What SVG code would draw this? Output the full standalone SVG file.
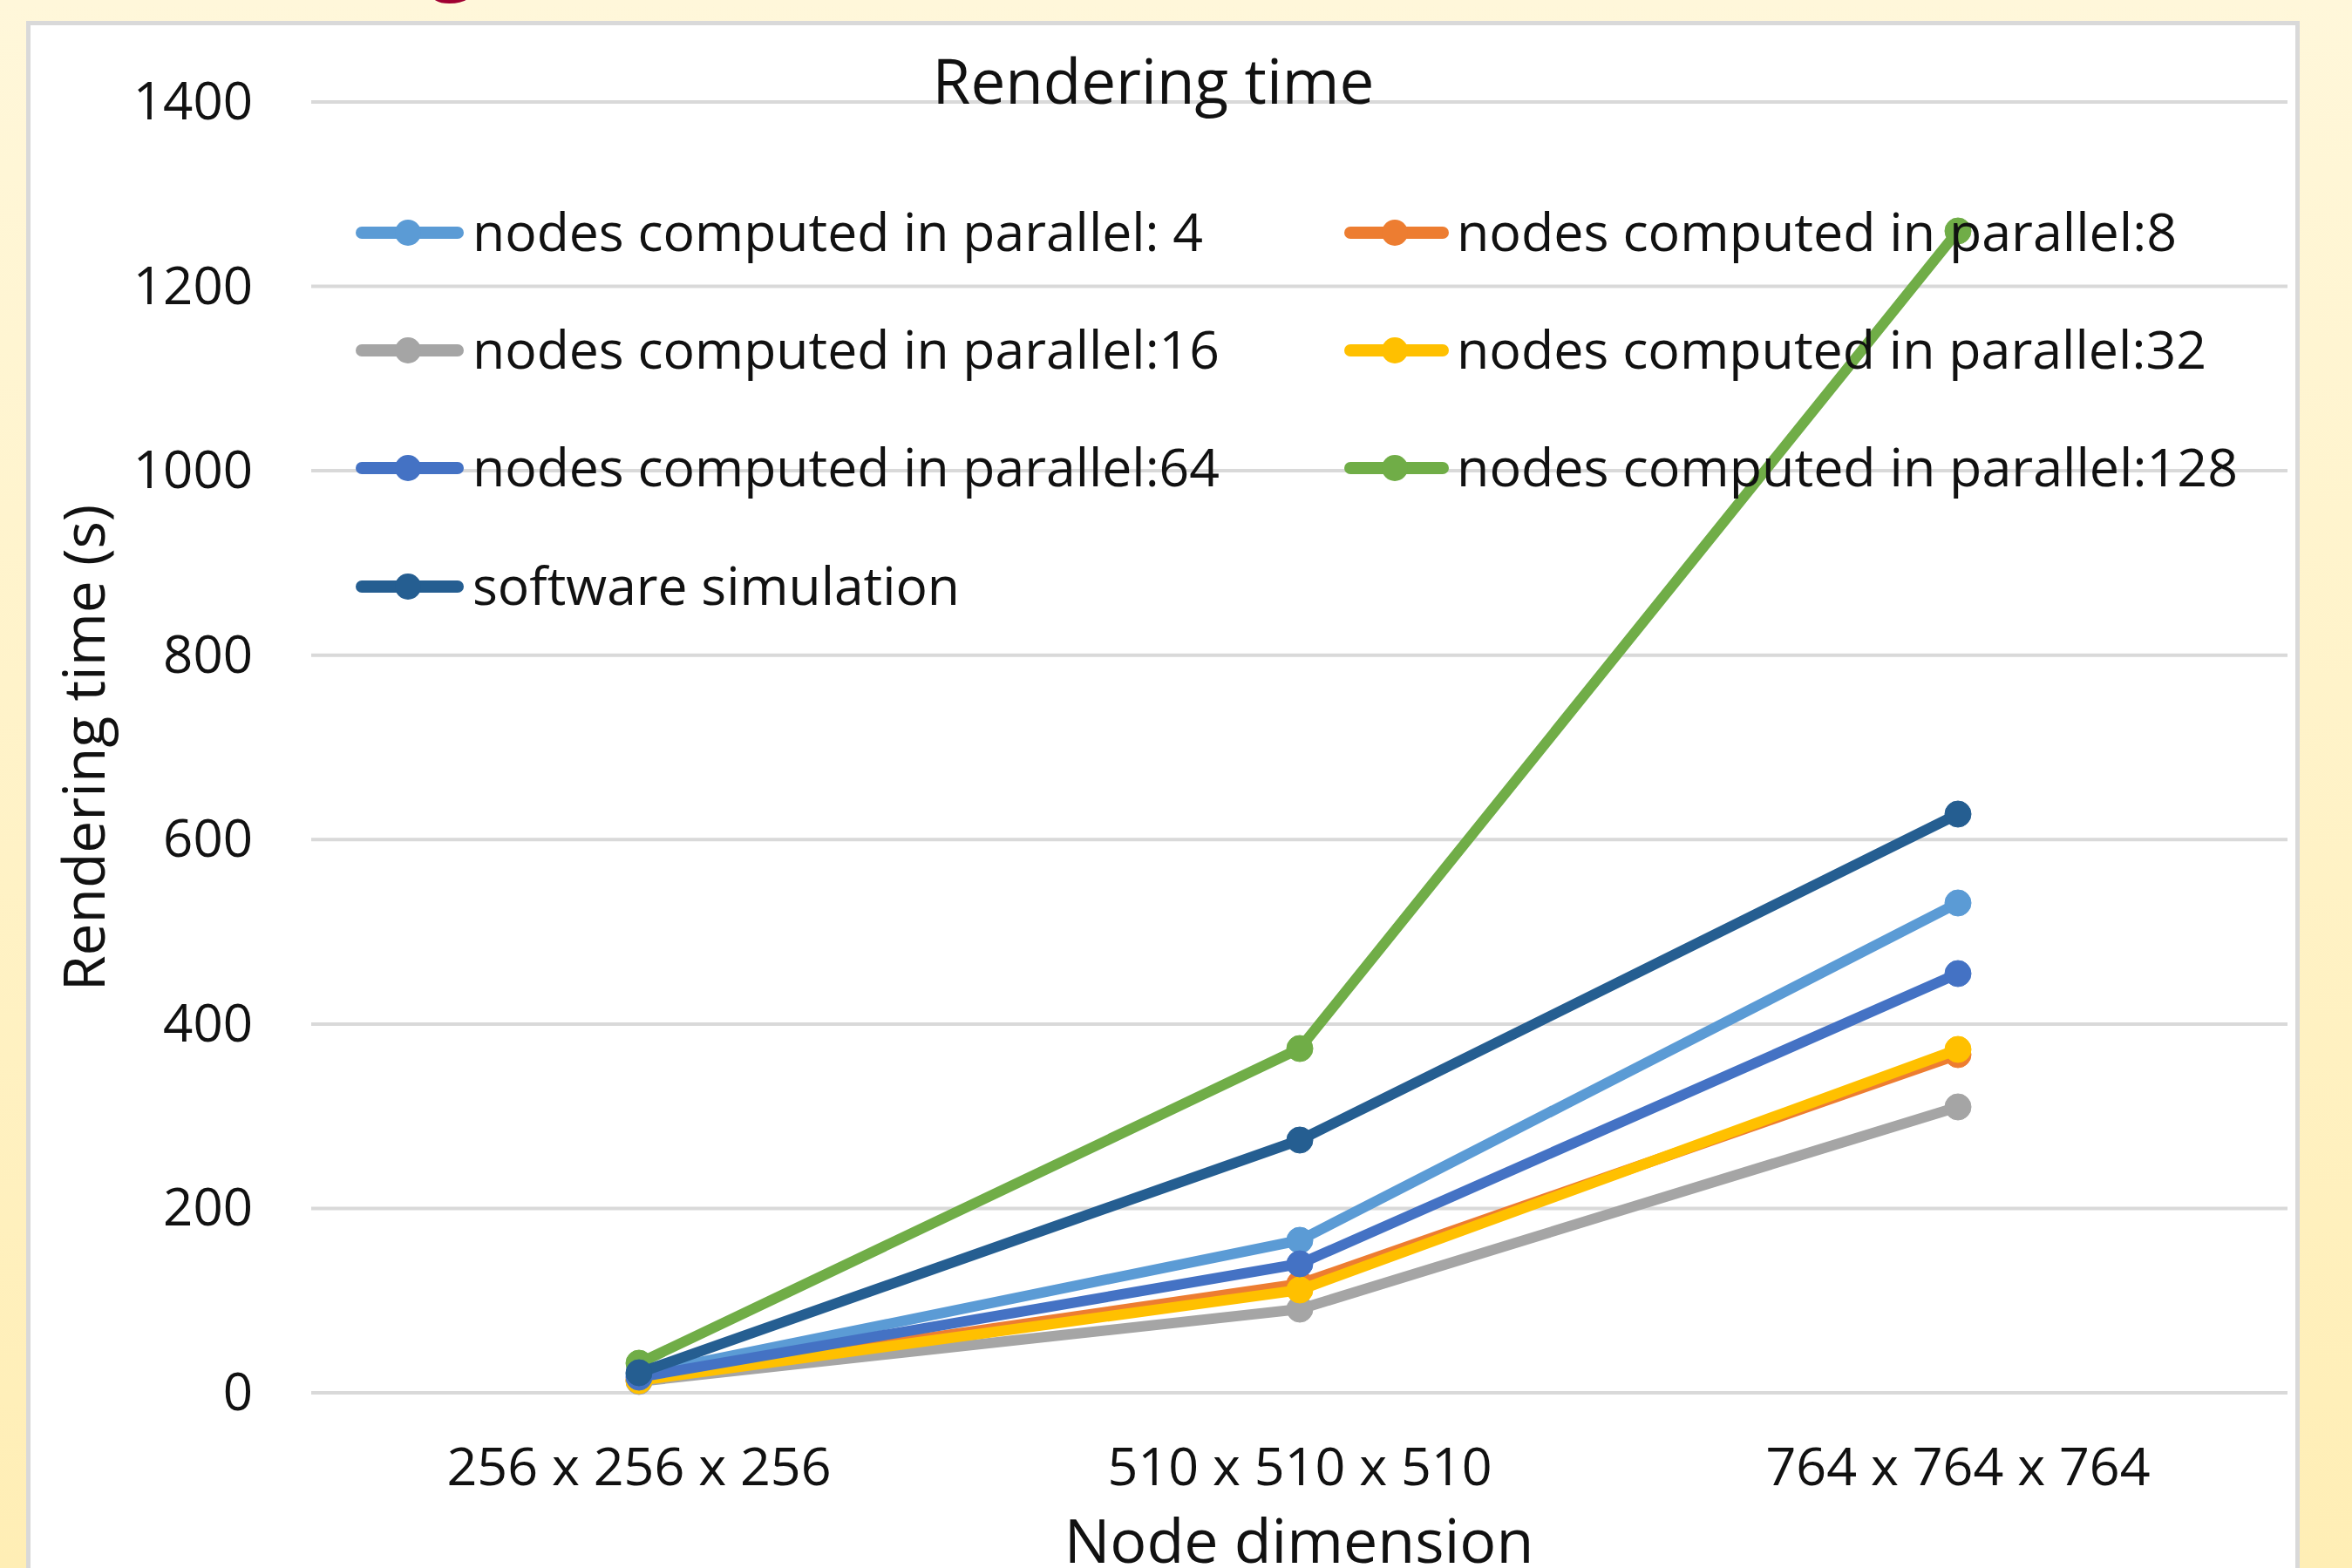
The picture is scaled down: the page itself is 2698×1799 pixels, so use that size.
<svg xmlns="http://www.w3.org/2000/svg" width="2698" height="1799" viewBox="0 0 2698 1799">
<defs>
<linearGradient id="bg" x1="0" y1="0" x2="0" y2="1">
<stop offset="0" stop-color="#FFF7DA"/>
<stop offset="1" stop-color="#FFEEB5"/>
</linearGradient>
<style>
.t{font-family:"Open Sans","Liberation Sans",sans-serif;fill:#111;}
.tick{font-size:60px;text-anchor:end;}
.cat{font-size:61px;text-anchor:middle;}
.leg{font-size:60px;}
.ttl{font-size:70px;}
.grid{stroke:#D9D9D9;stroke-width:4;}
.ser{fill:none;stroke-width:12;stroke-linejoin:round;stroke-linecap:round;}
.lg{stroke-width:14;stroke-linecap:round;}
</style>
</defs>
<rect x="0" y="0" width="2698" height="1799" fill="url(#bg)"/>
<text x="494" y="-18" font-family="Open Sans, Liberation Sans, sans-serif" font-weight="bold" font-size="90" fill="#A00032">g</text>
<rect id="panel" x="32.5" y="26.5" width="2603" height="1800" fill="#FFFFFF" stroke="#D9D9D9" stroke-width="5"/>
<g id="grid">
<line class="grid" x1="357" y1="1598" x2="2624" y2="1598"/>
<line class="grid" x1="357" y1="1386.4" x2="2624" y2="1386.4"/>
<line class="grid" x1="357" y1="1174.9" x2="2624" y2="1174.9"/>
<line class="grid" x1="357" y1="963.3" x2="2624" y2="963.3"/>
<line class="grid" x1="357" y1="751.7" x2="2624" y2="751.7"/>
<line class="grid" x1="357" y1="540.1" x2="2624" y2="540.1"/>
<line class="grid" x1="357" y1="328.6" x2="2624" y2="328.6"/>
<line class="grid" x1="357" y1="117" x2="2624" y2="117"/>
</g>
<g id="y-axis">
<text class="t tick" x="290" y="1618">0</text>
<text class="t tick" x="290" y="1406">200</text>
<text class="t tick" x="290" y="1195">400</text>
<text class="t tick" x="290" y="983">600</text>
<text class="t tick" x="290" y="772">800</text>
<text class="t tick" x="290" y="560">1000</text>
<text class="t tick" x="290" y="349">1200</text>
<text class="t tick" x="290" y="137">1400</text>
<text class="t" font-size="66" x="0" y="0" text-anchor="middle" transform="translate(120 858) rotate(-90)">Rendering time (s)</text>
</g>
<g id="x-axis">
<text class="t cat" x="733" y="1704">256 x 256 x 256</text>
<text class="t cat" x="1491" y="1704">510 x 510 x 510</text>
<text class="t cat" x="2246" y="1704">764 x 764 x 764</text>
<text class="t ttl" x="1490" y="1793" text-anchor="middle">Node dimension</text>
</g>
<text id="title" class="t" font-size="71" x="1323" y="119" text-anchor="middle">Rendering time</text>
<g id="connectors">
<g id="s4" stroke="#5B9BD5" fill="#5B9BD5">
<polyline class="ser" points="733,1577 1491,1423 2246,1036"/>
<circle cx="733" cy="1577" r="15"/><circle cx="1491" cy="1423" r="15"/><circle cx="2246" cy="1036" r="15"/>
</g>
<g id="s8" stroke="#ED7D31" fill="#ED7D31">
<polyline class="ser" points="733,1583 1491,1473 2246,1210"/>
<circle cx="733" cy="1583" r="15"/><circle cx="1491" cy="1473" r="15"/><circle cx="2246" cy="1210" r="15"/>
</g>
<g id="s16" stroke="#A5A5A5" fill="#A5A5A5">
<polyline class="ser" points="733,1585 1491,1502 2246,1270"/>
<circle cx="733" cy="1585" r="15"/><circle cx="1491" cy="1502" r="15"/><circle cx="2246" cy="1270" r="15"/>
</g>
<g id="s32" stroke="#FFC000" fill="#FFC000">
<polyline class="ser" points="733,1584 1491,1480 2246,1204"/>
<circle cx="733" cy="1584" r="15"/><circle cx="1491" cy="1480" r="15"/><circle cx="2246" cy="1204" r="15"/>
</g>
<g id="s64" stroke="#4472C4" fill="#4472C4">
<polyline class="ser" points="733,1580 1491,1450 2246,1117"/>
<circle cx="733" cy="1580" r="15"/><circle cx="1491" cy="1450" r="15"/><circle cx="2246" cy="1117" r="15"/>
</g>
<g id="s128" stroke="#70AD47" fill="#70AD47">
<polyline class="ser" points="733,1564 1491,1203 2246,265"/>
<circle cx="733" cy="1564" r="15"/><circle cx="1491" cy="1203" r="15"/><circle cx="2246" cy="265" r="15"/>
</g>
<g id="ssw" stroke="#255E91" fill="#255E91">
<polyline class="ser" points="733,1575 1491,1308 2246,934"/>
<circle cx="733" cy="1575" r="15"/><circle cx="1491" cy="1308" r="15"/><circle cx="2246" cy="934" r="15"/>
</g>
</g>
<g id="legend">
<g id="leg4"><line class="lg" x1="415" y1="267" x2="525" y2="267" stroke="#5B9BD5"/><circle cx="468" cy="267" r="15" fill="#5B9BD5"/><text class="t leg" x="542" y="288" textLength="838" lengthAdjust="spacingAndGlyphs">nodes computed in parallel: 4</text></g>
<g id="leg8"><line class="lg" x1="1549" y1="267" x2="1655" y2="267" stroke="#ED7D31"/><circle cx="1600" cy="267" r="15" fill="#ED7D31"/><text class="t leg" x="1671" y="288" textLength="826" lengthAdjust="spacingAndGlyphs">nodes computed in parallel:8</text></g>
<g id="leg16"><line class="lg" x1="415" y1="402" x2="525" y2="402" stroke="#A5A5A5"/><circle cx="468" cy="402" r="15" fill="#A5A5A5"/><text class="t leg" x="542" y="423" textLength="857" lengthAdjust="spacingAndGlyphs">nodes computed in parallel:16</text></g>
<g id="leg32"><line class="lg" x1="1549" y1="402" x2="1655" y2="402" stroke="#FFC000"/><circle cx="1600" cy="402" r="15" fill="#FFC000"/><text class="t leg" x="1671" y="423" textLength="860" lengthAdjust="spacingAndGlyphs">nodes computed in parallel:32</text></g>
<g id="leg64"><line class="lg" x1="415" y1="537" x2="525" y2="537" stroke="#4472C4"/><circle cx="468" cy="537" r="15" fill="#4472C4"/><text class="t leg" x="542" y="558" textLength="857" lengthAdjust="spacingAndGlyphs">nodes computed in parallel:64</text></g>
<g id="leg128"><line class="lg" x1="1549" y1="537" x2="1655" y2="537" stroke="#70AD47"/><circle cx="1600" cy="537" r="15" fill="#70AD47"/><text class="t leg" x="1671" y="558" textLength="896" lengthAdjust="spacingAndGlyphs">nodes computed in parallel:128</text></g>
<g id="legsw"><line class="lg" x1="415" y1="673" x2="525" y2="673" stroke="#255E91"/><circle cx="468" cy="673" r="15" fill="#255E91"/><text class="t leg" x="542" y="694" textLength="559" lengthAdjust="spacingAndGlyphs">software simulation</text></g>
</g>
</svg>
